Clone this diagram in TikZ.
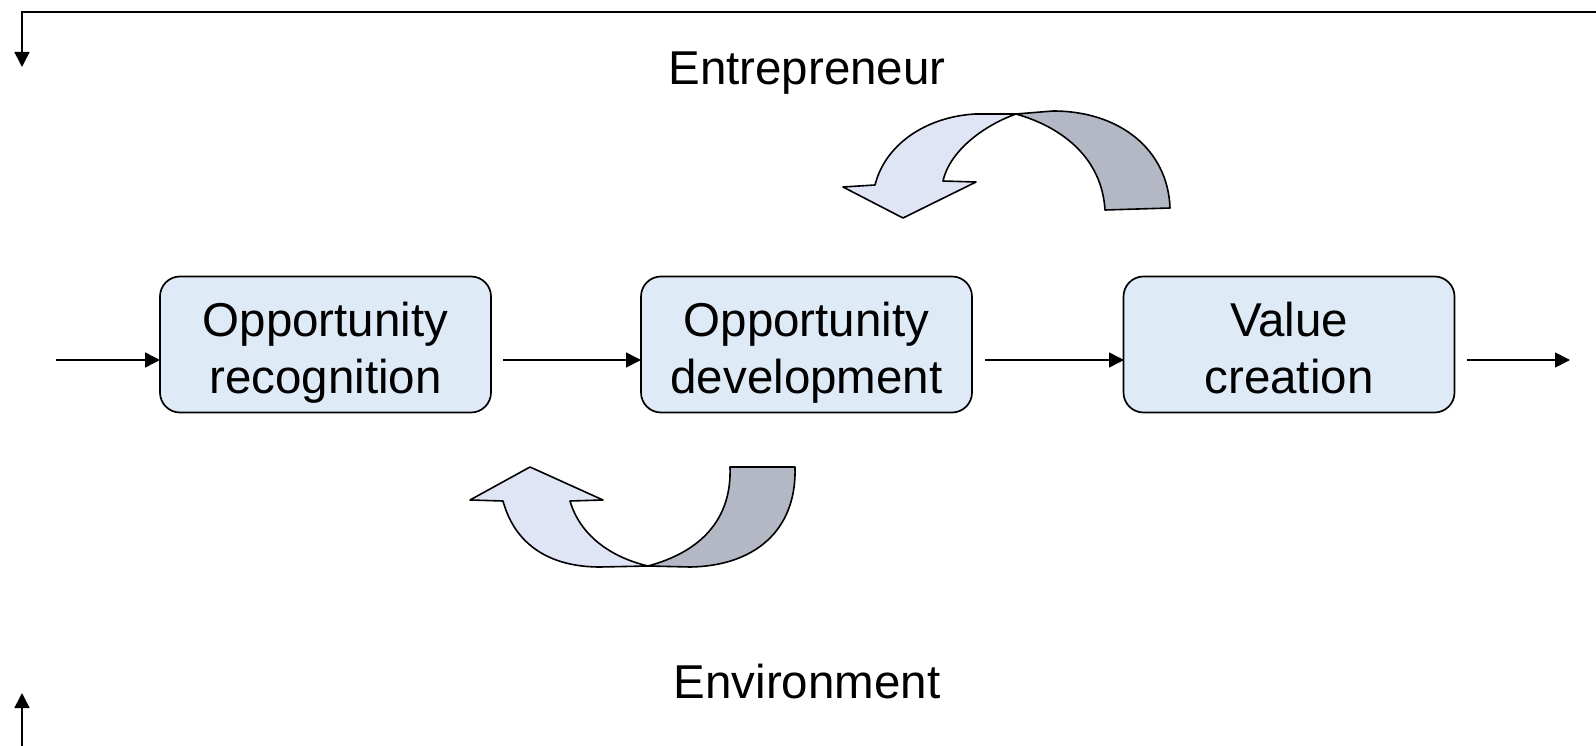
\documentclass[tikz,border=0pt]{standalone}
\usepackage{fontspec}
\setmainfont{Liberation Sans}
\usetikzlibrary{arrows.meta}
\definecolor{boxfill}{HTML}{DEEAF6}
\definecolor{arrlight}{HTML}{DFE5F5}
\definecolor{arrdark}{HTML}{B3B8C4}
\newcommand{\topstrut}{\rule{0pt}{50pt}}
\newcommand{\botstrut}{\rule[-10pt]{0pt}{10pt}}
\tikzset{
  stepbox/.style={draw=black, line width=1.7pt, fill=boxfill, rounded corners=20pt,
    minimum width=331pt, minimum height=136pt, align=center, inner sep=0pt,
    font=\fontsize{47.5}{57}\selectfont},
  flow/.style={line width=1.6pt, -{Triangle[length=15pt,width=15pt]}},
  lbl/.style={font=\fontsize{47.5}{57}\selectfont, anchor=base, inner sep=0pt},
  ribbon/.style={draw=black, line width=1.6pt, line join=round},
}
\begin{document}
\begin{tikzpicture}[x=1pt,y=-1pt]
\useasboundingbox (0,0) rectangle (1596,746);

% boxes
\node[stepbox] (b1) at (325.5,344.5) {\topstrut Opportunity\\recognition\botstrut};
\node[stepbox] (b2) at (806.5,344.5) {\topstrut Opportunity\\development\botstrut};
\node[stepbox] (b3) at (1289,344.5) {\topstrut Value\\creation\botstrut};

% flow arrows
\coordinate (in) at (56,360);
\coordinate (out) at (1570,360);
\coordinate (b1r) at (490,360);
\coordinate (b2l) at (641,360);
\coordinate (b2r) at (972,360);
\coordinate (b3l) at (1124,360);
\coordinate (b3r) at (1454,360);
\coordinate (b1l) at (160,360);
\draw[flow] (in) -- (b1l);
\draw[flow, shorten <=13pt] (b1r) -- (b2l);
\draw[flow, shorten <=13pt] (b2r) -- (b3l);
\draw[flow, shorten <=13pt] (b3r) -- (out);

% labels
\node[lbl] (ent) at (807,85) {Entrepreneur};
\node[lbl] (env) at (807,698) {Environment};

% corner arrows
\coordinate (tr) at (1596,12);
\coordinate (tl) at (22,12);
\coordinate (tlend) at (22,67);
\coordinate (bl) at (22,746);
\coordinate (blend) at (22,693);
\draw[flow] (tr) -- (tl) -- (tlend);
\draw[flow] (bl) -- (blend);

% top curved arrow
\coordinate (P) at (1016,114);
\fill[arrdark] (P) -- (1053,111) .. controls (1120,111) and (1168,150) .. (1170,208)
  -- (1105,210) .. controls (1102,160) and (1065,128) .. (P) -- cycle;
\draw[ribbon] (P) -- (1053,111) .. controls (1120,111) and (1168,150) .. (1170,208)
  -- (1105,210) .. controls (1102,160) and (1065,128) .. (P);
\draw[ribbon, fill=arrlight] (903,218) -- (843,187) -- (875,185)
  .. controls (885,145) and (925,117) .. (975,114) -- (P)
  .. controls (985,125) and (950,150) .. (943,181) -- (976,182) -- cycle;

% bottom curved arrow
\coordinate (Q) at (648,566);
\draw[ribbon, fill=arrdark] (Q) .. controls (700,552) and (732,520) .. (730,467)
  -- (795,467) .. controls (797,530) and (755,566) .. (690,567) -- (Q) -- cycle;
\draw[ribbon, fill=arrlight] (530,467) -- (603,500) -- (570,501)
  .. controls (580,535) and (610,557) .. (Q) -- (600,567)
  .. controls (550,567) and (515,545) .. (503,501) -- (470,500) -- cycle;
\end{tikzpicture}
\end{document}
